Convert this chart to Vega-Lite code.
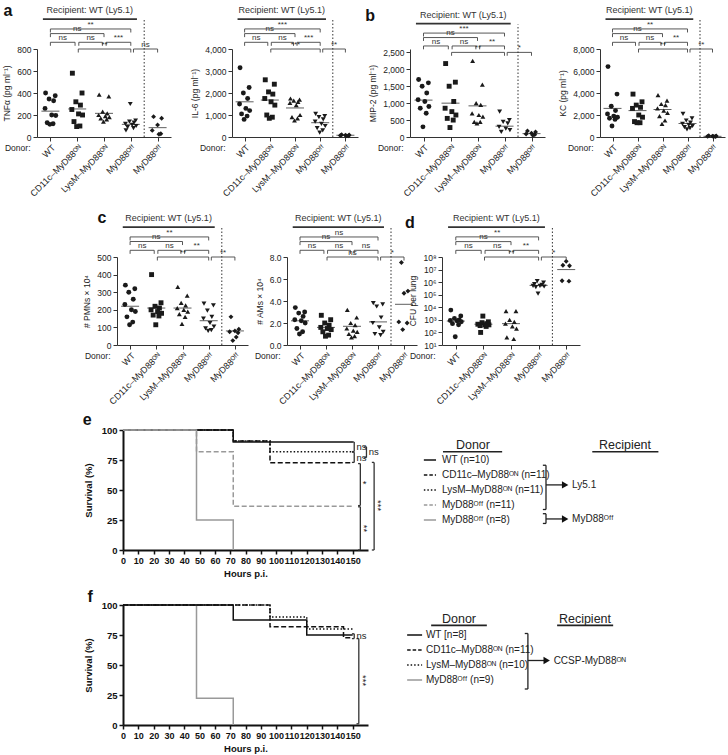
{
"$schema": "https://vega.github.io/schema/vega-lite/v6.json",
"width": 728, "height": 755,
"autosize": {"type": "none"},
"padding": 0,
"background": "white",
"config": {
  "view": {"stroke": null},
  "font": "Liberation Sans",
  "axis": {"grid": false, "labelOverlap": false, "domainColor": "#333", "tickColor": "#333", "labelColor": "#222", "titleColor": "#222", "labelFontSize": 8.5, "titleFontSize": 8.5, "titleFontWeight": "normal", "tickSize": 4, "labelPadding": 2, "titlePadding": 5},
  "axisX": {"labelFontSize": 9}
},
"datasets": {
  "pts": [
    {"p":"tnf","g":1,"x":0.82,"v":400},{"p":"tnf","g":1,"x":1.18,"v":375},{"p":"tnf","g":1,"x":0.95,"v":345},{"p":"tnf","g":1,"x":1.12,"v":330},{"p":"tnf","g":1,"x":0.8,"v":260},{"p":"tnf","g":1,"x":1.05,"v":200},{"p":"tnf","g":1,"x":1.2,"v":195},{"p":"tnf","g":1,"x":0.88,"v":130},{"p":"tnf","g":1,"x":1.1,"v":120},{"p":"tnf","g":1,"x":0.98,"v":115},
    {"p":"tnf","g":2,"x":1.82,"v":580},{"p":"tnf","g":2,"x":2.18,"v":400},{"p":"tnf","g":2,"x":1.95,"v":320},{"p":"tnf","g":2,"x":2.12,"v":290},{"p":"tnf","g":2,"x":1.8,"v":250},{"p":"tnf","g":2,"x":2.05,"v":210},{"p":"tnf","g":2,"x":2.2,"v":200},{"p":"tnf","g":2,"x":1.88,"v":140},{"p":"tnf","g":2,"x":2.1,"v":100},{"p":"tnf","g":2,"x":1.98,"v":95},
    {"p":"tnf","g":3,"x":2.82,"v":385},{"p":"tnf","g":3,"x":3.18,"v":370},{"p":"tnf","g":3,"x":2.95,"v":230},{"p":"tnf","g":3,"x":3.12,"v":215},{"p":"tnf","g":3,"x":2.8,"v":200},{"p":"tnf","g":3,"x":3.05,"v":190},{"p":"tnf","g":3,"x":3.2,"v":180},{"p":"tnf","g":3,"x":2.88,"v":170},{"p":"tnf","g":3,"x":3.1,"v":160},{"p":"tnf","g":3,"x":2.98,"v":140},
    {"p":"tnf","g":4,"x":3.98,"v":300},{"p":"tnf","g":4,"x":4.18,"v":150},{"p":"tnf","g":4,"x":3.95,"v":140},{"p":"tnf","g":4,"x":4.12,"v":130},{"p":"tnf","g":4,"x":3.8,"v":120},{"p":"tnf","g":4,"x":4.05,"v":110},{"p":"tnf","g":4,"x":4.2,"v":100},{"p":"tnf","g":4,"x":3.88,"v":90},{"p":"tnf","g":4,"x":4.1,"v":80},{"p":"tnf","g":4,"x":3.82,"v":60},
    {"p":"tnf","g":5,"x":4.85,"v":185},{"p":"tnf","g":5,"x":5.15,"v":170},{"p":"tnf","g":5,"x":5.0,"v":110},{"p":"tnf","g":5,"x":4.8,"v":60},{"p":"tnf","g":5,"x":5.12,"v":30},{"p":"tnf","g":5,"x":5.05,"v":25},

    {"p":"il6","g":1,"x":0.82,"v":3150},{"p":"il6","g":1,"x":1.18,"v":2250},{"p":"il6","g":1,"x":0.95,"v":2000},{"p":"il6","g":1,"x":1.12,"v":1750},{"p":"il6","g":1,"x":0.8,"v":1500},{"p":"il6","g":1,"x":1.05,"v":1300},{"p":"il6","g":1,"x":1.2,"v":1200},{"p":"il6","g":1,"x":0.88,"v":1050},{"p":"il6","g":1,"x":1.1,"v":950},{"p":"il6","g":1,"x":0.98,"v":800},
    {"p":"il6","g":2,"x":1.82,"v":2600},{"p":"il6","g":2,"x":2.18,"v":2400},{"p":"il6","g":2,"x":1.95,"v":2050},{"p":"il6","g":2,"x":2.12,"v":1950},{"p":"il6","g":2,"x":1.8,"v":1750},{"p":"il6","g":2,"x":2.05,"v":1600},{"p":"il6","g":2,"x":2.2,"v":1450},{"p":"il6","g":2,"x":1.88,"v":1000},{"p":"il6","g":2,"x":2.1,"v":900},{"p":"il6","g":2,"x":1.98,"v":850},
    {"p":"il6","g":3,"x":2.82,"v":1750},{"p":"il6","g":3,"x":3.18,"v":1700},{"p":"il6","g":3,"x":2.95,"v":1650},{"p":"il6","g":3,"x":3.12,"v":1600},{"p":"il6","g":3,"x":2.8,"v":1550},{"p":"il6","g":3,"x":3.05,"v":1450},{"p":"il6","g":3,"x":3.2,"v":1000},{"p":"il6","g":3,"x":2.88,"v":900},{"p":"il6","g":3,"x":3.1,"v":850},{"p":"il6","g":3,"x":2.98,"v":750},
    {"p":"il6","g":4,"x":3.82,"v":1050},{"p":"il6","g":4,"x":4.18,"v":950},{"p":"il6","g":4,"x":3.95,"v":900},{"p":"il6","g":4,"x":4.12,"v":800},{"p":"il6","g":4,"x":3.8,"v":700},{"p":"il6","g":4,"x":4.05,"v":600},{"p":"il6","g":4,"x":4.2,"v":500},{"p":"il6","g":4,"x":3.88,"v":400},{"p":"il6","g":4,"x":4.1,"v":300},{"p":"il6","g":4,"x":3.98,"v":200},
    {"p":"il6","g":5,"x":4.85,"v":100},{"p":"il6","g":5,"x":5.15,"v":90},{"p":"il6","g":5,"x":5.0,"v":80},{"p":"il6","g":5,"x":4.8,"v":70},{"p":"il6","g":5,"x":5.12,"v":60},{"p":"il6","g":5,"x":5.05,"v":50},

    {"p":"mip","g":1,"x":0.82,"v":1700},{"p":"mip","g":1,"x":1.18,"v":1600},{"p":"mip","g":1,"x":0.95,"v":1500},{"p":"mip","g":1,"x":1.12,"v":1300},{"p":"mip","g":1,"x":0.8,"v":1100},{"p":"mip","g":1,"x":1.05,"v":1050},{"p":"mip","g":1,"x":1.2,"v":900},{"p":"mip","g":1,"x":0.88,"v":850},{"p":"mip","g":1,"x":1.1,"v":700},{"p":"mip","g":1,"x":0.98,"v":300},
    {"p":"mip","g":2,"x":1.82,"v":2170},{"p":"mip","g":2,"x":2.18,"v":1620},{"p":"mip","g":2,"x":1.95,"v":1500},{"p":"mip","g":2,"x":2.12,"v":1050},{"p":"mip","g":2,"x":1.8,"v":850},{"p":"mip","g":2,"x":2.05,"v":750},{"p":"mip","g":2,"x":2.2,"v":650},{"p":"mip","g":2,"x":1.88,"v":550},{"p":"mip","g":2,"x":2.1,"v":500},{"p":"mip","g":2,"x":1.98,"v":280},
    {"p":"mip","g":3,"x":2.82,"v":2250},{"p":"mip","g":3,"x":3.18,"v":1550},{"p":"mip","g":3,"x":2.95,"v":1000},{"p":"mip","g":3,"x":3.12,"v":950},{"p":"mip","g":3,"x":2.8,"v":700},{"p":"mip","g":3,"x":3.05,"v":650},{"p":"mip","g":3,"x":3.2,"v":600},{"p":"mip","g":3,"x":2.88,"v":450},{"p":"mip","g":3,"x":3.1,"v":450},{"p":"mip","g":3,"x":2.98,"v":400},
    {"p":"mip","g":4,"x":3.82,"v":750},{"p":"mip","g":4,"x":4.18,"v":500},{"p":"mip","g":4,"x":3.95,"v":450},{"p":"mip","g":4,"x":4.12,"v":400},{"p":"mip","g":4,"x":3.8,"v":300},{"p":"mip","g":4,"x":4.05,"v":250},{"p":"mip","g":4,"x":4.2,"v":200},{"p":"mip","g":4,"x":3.88,"v":150},
    {"p":"mip","g":5,"x":4.85,"v":180},{"p":"mip","g":5,"x":5.15,"v":150},{"p":"mip","g":5,"x":5.0,"v":110},{"p":"mip","g":5,"x":4.8,"v":90},{"p":"mip","g":5,"x":5.12,"v":70},{"p":"mip","g":5,"x":5.05,"v":50},

    {"p":"kc","g":1,"x":0.82,"v":6400},{"p":"kc","g":1,"x":1.18,"v":3900},{"p":"kc","g":1,"x":0.95,"v":2800},{"p":"kc","g":1,"x":1.12,"v":2400},{"p":"kc","g":1,"x":0.8,"v":2100},{"p":"kc","g":1,"x":1.05,"v":1900},{"p":"kc","g":1,"x":1.2,"v":1800},{"p":"kc","g":1,"x":0.88,"v":1700},{"p":"kc","g":1,"x":1.1,"v":1600},{"p":"kc","g":1,"x":0.98,"v":1000},
    {"p":"kc","g":2,"x":1.82,"v":3900},{"p":"kc","g":2,"x":2.18,"v":3200},{"p":"kc","g":2,"x":1.95,"v":2900},{"p":"kc","g":2,"x":2.12,"v":2700},{"p":"kc","g":2,"x":1.8,"v":2600},{"p":"kc","g":2,"x":2.05,"v":2000},{"p":"kc","g":2,"x":2.2,"v":1800},{"p":"kc","g":2,"x":1.88,"v":1400},{"p":"kc","g":2,"x":2.1,"v":1300},{"p":"kc","g":2,"x":1.98,"v":1300},
    {"p":"kc","g":3,"x":2.82,"v":3800},{"p":"kc","g":3,"x":3.18,"v":3300},{"p":"kc","g":3,"x":2.95,"v":3000},{"p":"kc","g":3,"x":3.12,"v":2900},{"p":"kc","g":3,"x":2.8,"v":2600},{"p":"kc","g":3,"x":3.05,"v":2400},{"p":"kc","g":3,"x":3.2,"v":2200},{"p":"kc","g":3,"x":2.88,"v":1900},{"p":"kc","g":3,"x":3.1,"v":1500},{"p":"kc","g":3,"x":2.98,"v":1200},
    {"p":"kc","g":4,"x":3.82,"v":2100},{"p":"kc","g":4,"x":4.18,"v":1700},{"p":"kc","g":4,"x":3.95,"v":1500},{"p":"kc","g":4,"x":4.12,"v":1300},{"p":"kc","g":4,"x":3.8,"v":1200},{"p":"kc","g":4,"x":4.05,"v":1100},{"p":"kc","g":4,"x":4.2,"v":1000},{"p":"kc","g":4,"x":3.88,"v":900},{"p":"kc","g":4,"x":4.1,"v":800},{"p":"kc","g":4,"x":3.98,"v":700},
    {"p":"kc","g":5,"x":4.85,"v":120},{"p":"kc","g":5,"x":5.15,"v":100},{"p":"kc","g":5,"x":5.0,"v":80},{"p":"kc","g":5,"x":4.8,"v":60},{"p":"kc","g":5,"x":5.12,"v":50},{"p":"kc","g":5,"x":5.05,"v":40},

    {"p":"pmn","g":1,"x":0.82,"v":340},{"p":"pmn","g":1,"x":1.18,"v":320},{"p":"pmn","g":1,"x":0.95,"v":300},{"p":"pmn","g":1,"x":1.12,"v":260},{"p":"pmn","g":1,"x":0.8,"v":230},{"p":"pmn","g":1,"x":1.05,"v":200},{"p":"pmn","g":1,"x":1.2,"v":190},{"p":"pmn","g":1,"x":0.88,"v":160},{"p":"pmn","g":1,"x":1.1,"v":130},{"p":"pmn","g":1,"x":0.98,"v":115},
    {"p":"pmn","g":2,"x":1.82,"v":400},{"p":"pmn","g":2,"x":2.18,"v":240},{"p":"pmn","g":2,"x":1.95,"v":220},{"p":"pmn","g":2,"x":2.12,"v":210},{"p":"pmn","g":2,"x":1.8,"v":200},{"p":"pmn","g":2,"x":2.05,"v":190},{"p":"pmn","g":2,"x":2.2,"v":180},{"p":"pmn","g":2,"x":1.88,"v":170},{"p":"pmn","g":2,"x":2.1,"v":165},{"p":"pmn","g":2,"x":1.98,"v":115},
    {"p":"pmn","g":3,"x":2.82,"v":330},{"p":"pmn","g":3,"x":3.18,"v":280},{"p":"pmn","g":3,"x":2.95,"v":240},{"p":"pmn","g":3,"x":3.12,"v":225},{"p":"pmn","g":3,"x":2.8,"v":210},{"p":"pmn","g":3,"x":3.05,"v":200},{"p":"pmn","g":3,"x":3.2,"v":190},{"p":"pmn","g":3,"x":2.88,"v":175},{"p":"pmn","g":3,"x":3.1,"v":160},{"p":"pmn","g":3,"x":2.98,"v":120},
    {"p":"pmn","g":4,"x":3.82,"v":235},{"p":"pmn","g":4,"x":4.18,"v":225},{"p":"pmn","g":4,"x":3.95,"v":195},{"p":"pmn","g":4,"x":4.12,"v":160},{"p":"pmn","g":4,"x":3.8,"v":150},{"p":"pmn","g":4,"x":4.05,"v":125},{"p":"pmn","g":4,"x":4.2,"v":105},{"p":"pmn","g":4,"x":3.88,"v":95},{"p":"pmn","g":4,"x":4.1,"v":85},{"p":"pmn","g":4,"x":3.98,"v":80},
    {"p":"pmn","g":5,"x":4.85,"v":160},{"p":"pmn","g":5,"x":5.15,"v":90},{"p":"pmn","g":5,"x":5.0,"v":80},{"p":"pmn","g":5,"x":4.8,"v":75},{"p":"pmn","g":5,"x":5.12,"v":70},{"p":"pmn","g":5,"x":5.05,"v":45},{"p":"pmn","g":5,"x":4.92,"v":25},

    {"p":"am","g":1,"x":0.82,"v":3.4},{"p":"am","g":1,"x":1.18,"v":3.0},{"p":"am","g":1,"x":0.95,"v":2.9},{"p":"am","g":1,"x":1.12,"v":2.6},{"p":"am","g":1,"x":0.8,"v":2.3},{"p":"am","g":1,"x":1.05,"v":2.2},{"p":"am","g":1,"x":1.2,"v":2.0},{"p":"am","g":1,"x":0.88,"v":1.5},{"p":"am","g":1,"x":1.1,"v":1.2},{"p":"am","g":1,"x":0.98,"v":1.0},
    {"p":"am","g":2,"x":1.82,"v":2.7},{"p":"am","g":2,"x":2.18,"v":2.3},{"p":"am","g":2,"x":1.95,"v":2.0},{"p":"am","g":2,"x":2.12,"v":1.8},{"p":"am","g":2,"x":1.8,"v":1.6},{"p":"am","g":2,"x":2.05,"v":1.5},{"p":"am","g":2,"x":2.2,"v":1.4},{"p":"am","g":2,"x":1.88,"v":1.2},{"p":"am","g":2,"x":2.1,"v":0.9},{"p":"am","g":2,"x":1.98,"v":0.8},
    {"p":"am","g":3,"x":2.82,"v":3.2},{"p":"am","g":3,"x":3.18,"v":2.5},{"p":"am","g":3,"x":2.95,"v":2.0},{"p":"am","g":3,"x":3.12,"v":1.8},{"p":"am","g":3,"x":2.8,"v":1.5},{"p":"am","g":3,"x":3.05,"v":1.3},{"p":"am","g":3,"x":3.2,"v":1.2},{"p":"am","g":3,"x":2.88,"v":1.0},{"p":"am","g":3,"x":3.1,"v":0.8},{"p":"am","g":3,"x":2.98,"v":0.7},
    {"p":"am","g":4,"x":3.82,"v":3.8},{"p":"am","g":4,"x":4.18,"v":3.7},{"p":"am","g":4,"x":3.95,"v":3.5},{"p":"am","g":4,"x":4.12,"v":2.5},{"p":"am","g":4,"x":3.8,"v":2.0},{"p":"am","g":4,"x":4.05,"v":1.6},{"p":"am","g":4,"x":4.2,"v":1.2},{"p":"am","g":4,"x":3.88,"v":1.0},{"p":"am","g":4,"x":4.1,"v":0.9},
    {"p":"am","g":5,"x":4.9,"v":7.5},{"p":"am","g":5,"x":5.15,"v":4.9},{"p":"am","g":5,"x":5.0,"v":4.7},{"p":"am","g":5,"x":4.8,"v":2.1},{"p":"am","g":5,"x":5.12,"v":2.0},{"p":"am","g":5,"x":4.95,"v":1.4},

    {"p":"cfu","g":1,"x":0.82,"v":6000},{"p":"cfu","g":1,"x":1.18,"v":2000},{"p":"cfu","g":1,"x":0.95,"v":1300},{"p":"cfu","g":1,"x":1.12,"v":1000},{"p":"cfu","g":1,"x":0.8,"v":900},{"p":"cfu","g":1,"x":1.05,"v":800},{"p":"cfu","g":1,"x":1.2,"v":700},{"p":"cfu","g":1,"x":0.88,"v":500},{"p":"cfu","g":1,"x":1.1,"v":400},{"p":"cfu","g":1,"x":0.98,"v":45},
    {"p":"cfu","g":2,"x":1.98,"v":2000},{"p":"cfu","g":2,"x":2.18,"v":700},{"p":"cfu","g":2,"x":1.95,"v":600},{"p":"cfu","g":2,"x":2.12,"v":500},{"p":"cfu","g":2,"x":1.8,"v":450},{"p":"cfu","g":2,"x":2.05,"v":400},{"p":"cfu","g":2,"x":2.2,"v":400},{"p":"cfu","g":2,"x":1.88,"v":350},{"p":"cfu","g":2,"x":2.1,"v":300},{"p":"cfu","g":2,"x":1.9,"v":100},
    {"p":"cfu","g":3,"x":2.82,"v":5000},{"p":"cfu","g":3,"x":3.18,"v":5000},{"p":"cfu","g":3,"x":2.95,"v":1000},{"p":"cfu","g":3,"x":3.12,"v":700},{"p":"cfu","g":3,"x":2.8,"v":500},{"p":"cfu","g":3,"x":3.05,"v":300},{"p":"cfu","g":3,"x":3.2,"v":200},{"p":"cfu","g":3,"x":2.85,"v":40},{"p":"cfu","g":3,"x":3.1,"v":30},
    {"p":"cfu","g":4,"x":3.95,"v":1200000},{"p":"cfu","g":4,"x":4.18,"v":900000},{"p":"cfu","g":4,"x":3.85,"v":700000},{"p":"cfu","g":4,"x":4.12,"v":600000},{"p":"cfu","g":4,"x":3.8,"v":500000},{"p":"cfu","g":4,"x":4.05,"v":500000},{"p":"cfu","g":4,"x":4.2,"v":450000},{"p":"cfu","g":4,"x":3.9,"v":400000},{"p":"cfu","g":4,"x":3.98,"v":120000},
    {"p":"cfu","g":5,"x":5.0,"v":45000000},{"p":"cfu","g":5,"x":4.88,"v":22000000},{"p":"cfu","g":5,"x":5.12,"v":20000000},{"p":"cfu","g":5,"x":4.85,"v":1300000},{"p":"cfu","g":5,"x":5.1,"v":1200000}
  ],
  "means": [
    {"p":"tnf","g":1,"v":235},{"p":"tnf","g":2,"v":255},{"p":"tnf","g":3,"v":215},{"p":"tnf","g":4,"v":115},{"p":"tnf","g":5,"v":85},
    {"p":"il6","g":1,"v":1600},{"p":"il6","g":2,"v":1680},{"p":"il6","g":3,"v":1320},{"p":"il6","g":4,"v":650},{"p":"il6","g":5,"v":80},
    {"p":"mip","g":1,"v":1090},{"p":"mip","g":2,"v":1000},{"p":"mip","g":3,"v":920},{"p":"mip","g":4,"v":320},{"p":"mip","g":5,"v":100},
    {"p":"kc","g":1,"v":2600},{"p":"kc","g":2,"v":2400},{"p":"kc","g":3,"v":2500},{"p":"kc","g":4,"v":1230},{"p":"kc","g":5,"v":60},
    {"p":"pmn","g":1,"v":220},{"p":"pmn","g":2,"v":210},{"p":"pmn","g":3,"v":210},{"p":"pmn","g":4,"v":138},{"p":"pmn","g":5,"v":80},
    {"p":"am","g":1,"v":2.2},{"p":"am","g":2,"v":1.6},{"p":"am","g":3,"v":1.7},{"p":"am","g":4,"v":2.1},{"p":"am","g":5,"v":3.7},
    {"p":"cfu","g":1,"v":800},{"p":"cfu","g":2,"v":450},{"p":"cfu","g":3,"v":500},{"p":"cfu","g":4,"v":550000},{"p":"cfu","g":5,"v":10000000}
  ],
  "br": [
    {"p":"tnf","x1":1,"x2":4,"xm":2.5,"y":982,"yt":950,"lab":"**"},{"p":"tnf","x1":1,"x2":3,"xm":2,"y":940,"yt":908,"lab":"ns"},{"p":"tnf","x1":1,"x2":1.92,"xm":1.46,"y":861,"yt":829,"lab":"ns"},{"p":"tnf","x1":2.06,"x2":2.94,"xm":2.5,"y":861,"yt":829,"lab":"ns"},{"p":"tnf","x1":3.08,"x2":4,"xm":3.54,"y":861,"yt":829,"lab":"***"},{"p":"tnf","x1":2.04,"x2":4,"xm":3.02,"y":800,"yt":768,"lab":"**"},{"p":"tnf","x1":4.1,"x2":5,"xm":4.55,"y":800,"yt":768,"lab":"ns"},
    {"p":"il6","x1":1,"x2":4,"xm":2.5,"y":4912,"yt":4752,"lab":"***"},{"p":"il6","x1":1,"x2":3,"xm":2,"y":4700,"yt":4540,"lab":"ns"},{"p":"il6","x1":1,"x2":1.92,"xm":1.46,"y":4304,"yt":4144,"lab":"ns"},{"p":"il6","x1":2.06,"x2":2.94,"xm":2.5,"y":4304,"yt":4144,"lab":"ns"},{"p":"il6","x1":3.08,"x2":4,"xm":3.54,"y":4304,"yt":4144,"lab":"***"},{"p":"il6","x1":2.04,"x2":4,"xm":3.02,"y":4000,"yt":3840,"lab":"***"},{"p":"il6","x1":4.1,"x2":5,"xm":4.55,"y":4000,"yt":3840,"lab":"**"},
    {"p":"mip","x1":1,"x2":4,"xm":2.5,"y":3070,"yt":2970,"lab":"***"},{"p":"mip","x1":1,"x2":3,"xm":2,"y":2938,"yt":2838,"lab":"ns"},{"p":"mip","x1":1,"x2":1.92,"xm":1.46,"y":2690,"yt":2590,"lab":"ns"},{"p":"mip","x1":2.06,"x2":2.94,"xm":2.5,"y":2690,"yt":2590,"lab":"ns"},{"p":"mip","x1":3.08,"x2":4,"xm":3.54,"y":2690,"yt":2590,"lab":"**"},{"p":"mip","x1":2.04,"x2":4,"xm":3.02,"y":2500,"yt":2400,"lab":"**"},{"p":"mip","x1":4.1,"x2":5,"xm":4.55,"y":2500,"yt":2400,"lab":"*"},
    {"p":"kc","x1":1,"x2":4,"xm":2.5,"y":9824,"yt":9504,"lab":"**"},{"p":"kc","x1":1,"x2":3,"xm":2,"y":9400,"yt":9080,"lab":"ns"},{"p":"kc","x1":1,"x2":1.92,"xm":1.46,"y":8608,"yt":8288,"lab":"ns"},{"p":"kc","x1":2.06,"x2":2.94,"xm":2.5,"y":8608,"yt":8288,"lab":"ns"},{"p":"kc","x1":3.08,"x2":4,"xm":3.54,"y":8608,"yt":8288,"lab":"**"},{"p":"kc","x1":2.04,"x2":4,"xm":3.02,"y":8000,"yt":7680,"lab":"**"},{"p":"kc","x1":4.1,"x2":5,"xm":4.55,"y":8000,"yt":7680,"lab":"**"},
    {"p":"pmn","x1":1,"x2":4,"xm":2.5,"y":614,"yt":594,"lab":"**"},{"p":"pmn","x1":1,"x2":3,"xm":2,"y":588,"yt":568,"lab":"ns"},{"p":"pmn","x1":1,"x2":1.92,"xm":1.46,"y":538,"yt":518,"lab":"ns"},{"p":"pmn","x1":2.06,"x2":2.94,"xm":2.5,"y":538,"yt":518,"lab":"ns"},{"p":"pmn","x1":3.08,"x2":4,"xm":3.54,"y":538,"yt":518,"lab":"**"},{"p":"pmn","x1":2.04,"x2":4,"xm":3.02,"y":500,"yt":480,"lab":"**"},{"p":"pmn","x1":4.1,"x2":5,"xm":4.55,"y":500,"yt":480,"lab":"**"},
    {"p":"am","x1":1,"x2":4,"xm":2.5,"y":9.82,"yt":9.5,"lab":"ns"},{"p":"am","x1":1,"x2":3,"xm":2,"y":9.4,"yt":9.08,"lab":"ns"},{"p":"am","x1":1,"x2":1.92,"xm":1.46,"y":8.61,"yt":8.29,"lab":"ns"},{"p":"am","x1":2.06,"x2":2.94,"xm":2.5,"y":8.61,"yt":8.29,"lab":"ns"},{"p":"am","x1":3.08,"x2":4,"xm":3.54,"y":8.61,"yt":8.29,"lab":"ns"},{"p":"am","x1":2.04,"x2":4,"xm":3.02,"y":8,"yt":7.68,"lab":"ns"},{"p":"am","x1":4.1,"x2":5,"xm":4.55,"y":8,"yt":7.68,"lab":"*"},
    {"p":"cfu","x1":1,"x2":4,"xm":2.5,"y":3980000000,"yt":2090000000,"lab":"**"},{"p":"cfu","x1":1,"x2":3,"xm":2,"y":1680000000,"yt":880000000,"lab":"ns"},{"p":"cfu","x1":1,"x2":1.92,"xm":1.46,"y":339000000,"yt":178000000,"lab":"ns"},{"p":"cfu","x1":2.06,"x2":2.94,"xm":2.5,"y":339000000,"yt":178000000,"lab":"ns"},{"p":"cfu","x1":3.08,"x2":4,"xm":3.54,"y":339000000,"yt":178000000,"lab":"**"},{"p":"cfu","x1":2.04,"x2":4,"xm":3.02,"y":100000000,"yt":52500000,"lab":"**"},{"p":"cfu","x1":4.1,"x2":5,"xm":4.55,"y":100000000,"yt":52500000,"lab":"*"}
  ],
  "hdr": [
    {"p":"tnf","xc":2.47,"yt":1152,"xl":0.72,"xr":4.23,"yl":1072,"xd":4.5,"yd0":0,"yd1":1064,"lab":"Recipient: WT (Ly5.1)"},
    {"p":"il6","xc":2.47,"yt":5760,"xl":0.72,"xr":4.23,"yl":5360,"xd":4.5,"yd0":0,"yd1":5320,"lab":"Recipient: WT (Ly5.1)"},
    {"p":"mip","xc":2.47,"yt":3600,"xl":0.72,"xr":4.23,"yl":3350,"xd":4.5,"yd0":0,"yd1":3325,"lab":"Recipient: WT (Ly5.1)"},
    {"p":"kc","xc":2.47,"yt":11520,"xl":0.72,"xr":4.23,"yl":10720,"xd":4.5,"yd0":0,"yd1":10640,"lab":"Recipient: WT (Ly5.1)"},
    {"p":"pmn","xc":2.47,"yt":720,"xl":0.72,"xr":4.23,"yl":670,"xd":4.5,"yd0":0,"yd1":665,"lab":"Recipient: WT (Ly5.1)"},
    {"p":"am","xc":2.47,"yt":11.52,"xl":0.72,"xr":4.23,"yl":10.72,"xd":4.5,"yd0":0,"yd1":10.64,"lab":"Recipient: WT (Ly5.1)"},
    {"p":"cfu","xc":2.47,"yt":120000000000,"xl":0.72,"xr":4.23,"yl":24000000000,"xd":4.5,"yd0":10,"yd1":20400000000,"lab":"Recipient: WT (Ly5.1)"}
  ],
  "let": [
    {"p":"tnf","x":-0.58,"y":1145,"t":"a"},
    {"p":"mip","x":-0.98,"y":3580,"t":"b"},
    {"p":"pmn","x":-0.07,"y":722,"t":"c"},
    {"p":"cfu","x":-0.66,"y":50000000000,"t":"d"}
  ],
  "surv": [
    {"pl":"e","s":"WT","t":0,"y":100},{"pl":"e","s":"WT","t":72,"y":90},{"pl":"e","s":"WT","t":150,"y":90},
    {"pl":"e","s":"CD","t":0,"y":100},{"pl":"e","s":"CD","t":72,"y":90.9},{"pl":"e","s":"CD","t":96,"y":72.7},{"pl":"e","s":"CD","t":150,"y":72.7},
    {"pl":"e","s":"Ly","t":0,"y":100},{"pl":"e","s":"Ly","t":72,"y":90.9},{"pl":"e","s":"Ly","t":96,"y":81.8},{"pl":"e","s":"Ly","t":150,"y":81.8},
    {"pl":"e","s":"O11","t":0,"y":100},{"pl":"e","s":"O11","t":48,"y":81.8},{"pl":"e","s":"O11","t":72,"y":36.4},{"pl":"e","s":"O11","t":150,"y":36.4},
    {"pl":"e","s":"O8","t":0,"y":100},{"pl":"e","s":"O8","t":48,"y":25},{"pl":"e","s":"O8","t":72,"y":0},
    {"pl":"f","s":"WT","t":0,"y":100},{"pl":"f","s":"WT","t":72,"y":87.5},{"pl":"f","s":"WT","t":120,"y":75},{"pl":"f","s":"WT","t":150,"y":75},
    {"pl":"f","s":"CD","t":0,"y":100},{"pl":"f","s":"CD","t":96,"y":81.8},{"pl":"f","s":"CD","t":144,"y":72.7},{"pl":"f","s":"CD","t":150,"y":72.7},
    {"pl":"f","s":"Ly","t":0,"y":100},{"pl":"f","s":"Ly","t":96,"y":90},{"pl":"f","s":"Ly","t":120,"y":80},{"pl":"f","s":"Ly","t":150,"y":80},
    {"pl":"f","s":"O9","t":0,"y":100},{"pl":"f","s":"O9","t":48,"y":22.2},{"pl":"f","s":"O9","t":72,"y":0}
  ],
  "sig": [
    {"pl":"e","t":151,"t0":149.5,"y1":90,"y2":82},{"pl":"e","t":151,"t0":149.5,"y1":81.5,"y2":73},{"pl":"e","t":159,"t0":157.5,"y1":86,"y2":77},
    {"pl":"e","t":155,"t0":153.5,"y1":72,"y2":37},{"pl":"e","t":155,"t0":153.5,"y1":36,"y2":0},{"pl":"e","t":164,"t0":162.5,"y1":73,"y2":0},
    {"pl":"f","t":151,"t0":149.5,"y1":76,"y2":72},{"pl":"f","t":154,"t0":152.5,"y1":72,"y2":1}
  ],
  "sigt": [
    {"pl":"e","t":152.5,"y":86,"lab":"ns"},{"pl":"e","t":152.5,"y":77,"lab":"ns"},{"pl":"e","t":160.5,"y":81.5,"lab":"ns"},
    {"pl":"e","t":156.5,"y":55,"lab":"*"},{"pl":"e","t":157.5,"y":18,"lab":"**"},{"pl":"e","t":166.5,"y":37,"lab":"***"},
    {"pl":"f","t":152.5,"y":74,"lab":"ns"},{"pl":"f","t":157,"y":37,"lab":"***"}
  ],
  "leg": [
    {"lg":"e","r":1,"s":"WT","lab":"WT (n=10)"},{"lg":"e","r":2,"s":"CD","lab":"CD11c–MyD88ᴼᴺ (n=11)"},{"lg":"e","r":3,"s":"Ly","lab":"LysM–MyD88ᴼᴺ (n=11)"},{"lg":"e","r":4,"s":"O11","lab":"MyD88ᴼᶠᶠ (n=11)"},{"lg":"e","r":5,"s":"O8","lab":"MyD88ᴼᶠᶠ (n=8)"},
    {"lg":"f","r":1,"s":"WT","lab":"WT [n=8]"},{"lg":"f","r":2,"s":"CD","lab":"CD11c–MyD88ᴼᴺ (n=11)"},{"lg":"f","r":3,"s":"Ly","lab":"LysM–MyD88ᴼᴺ (n=10)"},{"lg":"f","r":4,"s":"O9","lab":"MyD88ᴼᶠᶠ (n=9)"}
  ]
},
"resolve": {"scale": {"x": "independent", "y": "independent", "shape": "independent", "color": "independent", "strokeDash": "independent"}, "axis": {"x": "independent", "y": "independent"}},
"layer": [
  {"layer":[
    {"data":{"name":"pts"},"transform":[{"filter":"datum.p=='tnf'"}],"mark":{"type":"point","filled":true,"size":24,"color":"#1a1a1a","opacity":1},
     "encoding":{"x":{"field":"x","type":"quantitative","scale":{"domain":[0.5,5.5],"range":[37,171]},"axis":{"orient":"bottom","offset":-618,"values":[1,2,3,4,5],"labelExpr":"['','WT','CD11c–MyD88ᴼᴺ','LysM–MyD88ᴼᴺ','MyD88ᴼᶠᶠ','MyD88ᴼᶠᶠ'][datum.value]","labelAngle":-45,"labelOverlap":false,"title":"Donor:","titleX":30,"titleY":10,"titleAlign":"right","titleBaseline":"middle"}},
       "y":{"field":"v","type":"quantitative","scale":{"domain":[0,800],"range":[137,49]},"axis":{"orient":"left","offset":-37,"title":"TNFα (pg ml⁻¹)","values":[0,200,400,600,800],"labelOverlap":false}},
       "shape":{"field":"g","type":"nominal","scale":{"domain":[1,2,3,4,5],"range":["circle","square","triangle-up","triangle-down","diamond"]},"legend":null}}},
    {"data":{"name":"means"},"transform":[{"filter":"datum.p=='tnf'"}],"mark":{"type":"tick","orient":"horizontal","size":18,"thickness":1,"color":"#1a1a1a"},"encoding":{"x":{"field":"g","type":"quantitative"},"y":{"field":"v","type":"quantitative"}}},
    {"data":{"name":"br"},"transform":[{"filter":"datum.p=='tnf'"}],"mark":{"type":"rule","color":"#444","strokeWidth":0.9},"encoding":{"x":{"field":"x1","type":"quantitative"},"x2":{"field":"x2"},"y":{"field":"y","type":"quantitative"}}},
    {"data":{"name":"br"},"transform":[{"filter":"datum.p=='tnf'"}],"mark":{"type":"rule","color":"#444","strokeWidth":0.9},"encoding":{"x":{"field":"x1","type":"quantitative"},"y":{"field":"y","type":"quantitative"},"y2":{"field":"yt"}}},
    {"data":{"name":"br"},"transform":[{"filter":"datum.p=='tnf'"}],"mark":{"type":"rule","color":"#444","strokeWidth":0.9},"encoding":{"x":{"field":"x2","type":"quantitative"},"y":{"field":"y","type":"quantitative"},"y2":{"field":"yt"}}},
    {"data":{"name":"br"},"transform":[{"filter":"datum.p=='tnf'"}],"mark":{"type":"text","fontSize":8,"baseline":"bottom","dy":-0.3,"color":"#333"},"encoding":{"x":{"field":"xm","type":"quantitative"},"y":{"field":"y","type":"quantitative"},"text":{"field":"lab"}}},
    {"data":{"name":"hdr"},"transform":[{"filter":"datum.p=='tnf'"}],"mark":{"type":"text","fontSize":9,"color":"#333"},"encoding":{"x":{"field":"xc","type":"quantitative"},"y":{"field":"yt","type":"quantitative"},"text":{"field":"lab"}}},
    {"data":{"name":"hdr"},"transform":[{"filter":"datum.p=='tnf'"}],"mark":{"type":"rule","color":"#333","strokeWidth":1.6},"encoding":{"x":{"field":"xl","type":"quantitative"},"x2":{"field":"xr"},"y":{"field":"yl","type":"quantitative"}}},
    {"data":{"name":"hdr"},"transform":[{"filter":"datum.p=='tnf'"}],"mark":{"type":"rule","color":"#333","strokeWidth":1,"strokeDash":[1.5,2]},"encoding":{"x":{"field":"xd","type":"quantitative"},"y":{"field":"yd0","type":"quantitative"},"y2":{"field":"yd1"}}},
    {"data":{"name":"let"},"transform":[{"filter":"datum.p=='tnf'"}],"mark":{"type":"text","fontSize":16,"fontWeight":"bold","color":"#111"},"encoding":{"x":{"field":"x","type":"quantitative"},"y":{"field":"y","type":"quantitative"},"text":{"field":"t"}}}
  ]},
  {"layer":[
    {"data":{"name":"pts"},"transform":[{"filter":"datum.p=='il6'"}],"mark":{"type":"point","filled":true,"size":24,"color":"#1a1a1a","opacity":1},
     "encoding":{"x":{"field":"x","type":"quantitative","scale":{"domain":[0.5,5.5],"range":[232,358]},"axis":{"orient":"bottom","offset":-618,"values":[1,2,3,4,5],"labelExpr":"['','WT','CD11c–MyD88ᴼᴺ','LysM–MyD88ᴼᴺ','MyD88ᴼᶠᶠ','MyD88ᴼᶠᶠ'][datum.value]","labelAngle":-45,"labelOverlap":false,"title":"Donor:","titleX":225,"titleY":10,"titleAlign":"right","titleBaseline":"middle"}},
       "y":{"field":"v","type":"quantitative","scale":{"domain":[0,4000],"range":[137,49]},"axis":{"orient":"left","offset":-232,"title":"IL-6 (pg ml⁻¹)","values":[0,1000,2000,3000,4000],"labelOverlap":false}},
       "shape":{"field":"g","type":"nominal","scale":{"domain":[1,2,3,4,5],"range":["circle","square","triangle-up","triangle-down","diamond"]},"legend":null}}},
    {"data":{"name":"means"},"transform":[{"filter":"datum.p=='il6'"}],"mark":{"type":"tick","orient":"horizontal","size":18,"thickness":1,"color":"#1a1a1a"},"encoding":{"x":{"field":"g","type":"quantitative"},"y":{"field":"v","type":"quantitative"}}},
    {"data":{"name":"br"},"transform":[{"filter":"datum.p=='il6'"}],"mark":{"type":"rule","color":"#444","strokeWidth":0.9},"encoding":{"x":{"field":"x1","type":"quantitative"},"x2":{"field":"x2"},"y":{"field":"y","type":"quantitative"}}},
    {"data":{"name":"br"},"transform":[{"filter":"datum.p=='il6'"}],"mark":{"type":"rule","color":"#444","strokeWidth":0.9},"encoding":{"x":{"field":"x1","type":"quantitative"},"y":{"field":"y","type":"quantitative"},"y2":{"field":"yt"}}},
    {"data":{"name":"br"},"transform":[{"filter":"datum.p=='il6'"}],"mark":{"type":"rule","color":"#444","strokeWidth":0.9},"encoding":{"x":{"field":"x2","type":"quantitative"},"y":{"field":"y","type":"quantitative"},"y2":{"field":"yt"}}},
    {"data":{"name":"br"},"transform":[{"filter":"datum.p=='il6'"}],"mark":{"type":"text","fontSize":8,"baseline":"bottom","dy":-0.3,"color":"#333"},"encoding":{"x":{"field":"xm","type":"quantitative"},"y":{"field":"y","type":"quantitative"},"text":{"field":"lab"}}},
    {"data":{"name":"hdr"},"transform":[{"filter":"datum.p=='il6'"}],"mark":{"type":"text","fontSize":9,"color":"#333"},"encoding":{"x":{"field":"xc","type":"quantitative"},"y":{"field":"yt","type":"quantitative"},"text":{"field":"lab"}}},
    {"data":{"name":"hdr"},"transform":[{"filter":"datum.p=='il6'"}],"mark":{"type":"rule","color":"#333","strokeWidth":1.6},"encoding":{"x":{"field":"xl","type":"quantitative"},"x2":{"field":"xr"},"y":{"field":"yl","type":"quantitative"}}},
    {"data":{"name":"hdr"},"transform":[{"filter":"datum.p=='il6'"}],"mark":{"type":"rule","color":"#333","strokeWidth":1,"strokeDash":[1.5,2]},"encoding":{"x":{"field":"xd","type":"quantitative"},"y":{"field":"yd0","type":"quantitative"},"y2":{"field":"yd1"}}}
  ]},
  {"layer":[
    {"data":{"name":"pts"},"transform":[{"filter":"datum.p=='mip'"}],"mark":{"type":"point","filled":true,"size":24,"color":"#1a1a1a","opacity":1},
     "encoding":{"x":{"field":"x","type":"quantitative","scale":{"domain":[0.5,5.5],"range":[410,545]},"axis":{"orient":"bottom","offset":-618,"values":[1,2,3,4,5],"labelExpr":"['','WT','CD11c–MyD88ᴼᴺ','LysM–MyD88ᴼᴺ','MyD88ᴼᶠᶠ','MyD88ᴼᶠᶠ'][datum.value]","labelAngle":-45,"labelOverlap":false,"title":"Donor:","titleX":403,"titleY":10,"titleAlign":"right","titleBaseline":"middle"}},
       "y":{"field":"v","type":"quantitative","scale":{"domain":[0,2500],"range":[137,49]},"axis":{"orient":"left","offset":-410,"title":"MIP-2 (pg ml⁻¹)","values":[0,500,1000,1500,2000,2500],"labelOverlap":false}},
       "shape":{"field":"g","type":"nominal","scale":{"domain":[1,2,3,4,5],"range":["circle","square","triangle-up","triangle-down","diamond"]},"legend":null}}},
    {"data":{"name":"means"},"transform":[{"filter":"datum.p=='mip'"}],"mark":{"type":"tick","orient":"horizontal","size":18,"thickness":1,"color":"#1a1a1a"},"encoding":{"x":{"field":"g","type":"quantitative"},"y":{"field":"v","type":"quantitative"}}},
    {"data":{"name":"br"},"transform":[{"filter":"datum.p=='mip'"}],"mark":{"type":"rule","color":"#444","strokeWidth":0.9},"encoding":{"x":{"field":"x1","type":"quantitative"},"x2":{"field":"x2"},"y":{"field":"y","type":"quantitative"}}},
    {"data":{"name":"br"},"transform":[{"filter":"datum.p=='mip'"}],"mark":{"type":"rule","color":"#444","strokeWidth":0.9},"encoding":{"x":{"field":"x1","type":"quantitative"},"y":{"field":"y","type":"quantitative"},"y2":{"field":"yt"}}},
    {"data":{"name":"br"},"transform":[{"filter":"datum.p=='mip'"}],"mark":{"type":"rule","color":"#444","strokeWidth":0.9},"encoding":{"x":{"field":"x2","type":"quantitative"},"y":{"field":"y","type":"quantitative"},"y2":{"field":"yt"}}},
    {"data":{"name":"br"},"transform":[{"filter":"datum.p=='mip'"}],"mark":{"type":"text","fontSize":8,"baseline":"bottom","dy":-0.3,"color":"#333"},"encoding":{"x":{"field":"xm","type":"quantitative"},"y":{"field":"y","type":"quantitative"},"text":{"field":"lab"}}},
    {"data":{"name":"hdr"},"transform":[{"filter":"datum.p=='mip'"}],"mark":{"type":"text","fontSize":9,"color":"#333"},"encoding":{"x":{"field":"xc","type":"quantitative"},"y":{"field":"yt","type":"quantitative"},"text":{"field":"lab"}}},
    {"data":{"name":"hdr"},"transform":[{"filter":"datum.p=='mip'"}],"mark":{"type":"rule","color":"#333","strokeWidth":1.6},"encoding":{"x":{"field":"xl","type":"quantitative"},"x2":{"field":"xr"},"y":{"field":"yl","type":"quantitative"}}},
    {"data":{"name":"hdr"},"transform":[{"filter":"datum.p=='mip'"}],"mark":{"type":"rule","color":"#333","strokeWidth":1,"strokeDash":[1.5,2]},"encoding":{"x":{"field":"xd","type":"quantitative"},"y":{"field":"yd0","type":"quantitative"},"y2":{"field":"yd1"}}},
    {"data":{"name":"let"},"transform":[{"filter":"datum.p=='mip'"}],"mark":{"type":"text","fontSize":16,"fontWeight":"bold","color":"#111"},"encoding":{"x":{"field":"x","type":"quantitative"},"y":{"field":"y","type":"quantitative"},"text":{"field":"t"}}}
  ]},
  {"layer":[
    {"data":{"name":"pts"},"transform":[{"filter":"datum.p=='kc'"}],"mark":{"type":"point","filled":true,"size":24,"color":"#1a1a1a","opacity":1},
     "encoding":{"x":{"field":"x","type":"quantitative","scale":{"domain":[0.5,5.5],"range":[600,725]},"axis":{"orient":"bottom","offset":-618,"values":[1,2,3,4,5],"labelExpr":"['','WT','CD11c–MyD88ᴼᴺ','LysM–MyD88ᴼᴺ','MyD88ᴼᶠᶠ','MyD88ᴼᶠᶠ'][datum.value]","labelAngle":-45,"labelOverlap":false,"title":"Donor:","titleX":593,"titleY":10,"titleAlign":"right","titleBaseline":"middle"}},
       "y":{"field":"v","type":"quantitative","scale":{"domain":[0,8000],"range":[137,49]},"axis":{"orient":"left","offset":-600,"title":"KC (pg ml⁻¹)","values":[0,2000,4000,6000,8000],"labelOverlap":false}},
       "shape":{"field":"g","type":"nominal","scale":{"domain":[1,2,3,4,5],"range":["circle","square","triangle-up","triangle-down","diamond"]},"legend":null}}},
    {"data":{"name":"means"},"transform":[{"filter":"datum.p=='kc'"}],"mark":{"type":"tick","orient":"horizontal","size":18,"thickness":1,"color":"#1a1a1a"},"encoding":{"x":{"field":"g","type":"quantitative"},"y":{"field":"v","type":"quantitative"}}},
    {"data":{"name":"br"},"transform":[{"filter":"datum.p=='kc'"}],"mark":{"type":"rule","color":"#444","strokeWidth":0.9},"encoding":{"x":{"field":"x1","type":"quantitative"},"x2":{"field":"x2"},"y":{"field":"y","type":"quantitative"}}},
    {"data":{"name":"br"},"transform":[{"filter":"datum.p=='kc'"}],"mark":{"type":"rule","color":"#444","strokeWidth":0.9},"encoding":{"x":{"field":"x1","type":"quantitative"},"y":{"field":"y","type":"quantitative"},"y2":{"field":"yt"}}},
    {"data":{"name":"br"},"transform":[{"filter":"datum.p=='kc'"}],"mark":{"type":"rule","color":"#444","strokeWidth":0.9},"encoding":{"x":{"field":"x2","type":"quantitative"},"y":{"field":"y","type":"quantitative"},"y2":{"field":"yt"}}},
    {"data":{"name":"br"},"transform":[{"filter":"datum.p=='kc'"}],"mark":{"type":"text","fontSize":8,"baseline":"bottom","dy":-0.3,"color":"#333"},"encoding":{"x":{"field":"xm","type":"quantitative"},"y":{"field":"y","type":"quantitative"},"text":{"field":"lab"}}},
    {"data":{"name":"hdr"},"transform":[{"filter":"datum.p=='kc'"}],"mark":{"type":"text","fontSize":9,"color":"#333"},"encoding":{"x":{"field":"xc","type":"quantitative"},"y":{"field":"yt","type":"quantitative"},"text":{"field":"lab"}}},
    {"data":{"name":"hdr"},"transform":[{"filter":"datum.p=='kc'"}],"mark":{"type":"rule","color":"#333","strokeWidth":1.6},"encoding":{"x":{"field":"xl","type":"quantitative"},"x2":{"field":"xr"},"y":{"field":"yl","type":"quantitative"}}},
    {"data":{"name":"hdr"},"transform":[{"filter":"datum.p=='kc'"}],"mark":{"type":"rule","color":"#333","strokeWidth":1,"strokeDash":[1.5,2]},"encoding":{"x":{"field":"xd","type":"quantitative"},"y":{"field":"yd0","type":"quantitative"},"y2":{"field":"yd1"}}}
  ]},
  {"layer":[
    {"data":{"name":"pts"},"transform":[{"filter":"datum.p=='pmn'"}],"mark":{"type":"point","filled":true,"size":24,"color":"#1a1a1a","opacity":1},
     "encoding":{"x":{"field":"x","type":"quantitative","scale":{"domain":[0.5,5.5],"range":[117,248]},"axis":{"orient":"bottom","offset":-410,"values":[1,2,3,4,5],"labelExpr":"['','WT','CD11c–MyD88ᴼᴺ','LysM–MyD88ᴼᴺ','MyD88ᴼᶠᶠ','MyD88ᴼᶠᶠ'][datum.value]","labelAngle":-45,"labelOverlap":false,"title":"Donor:","titleX":110,"titleY":10,"titleAlign":"right","titleBaseline":"middle"}},
       "y":{"field":"v","type":"quantitative","scale":{"domain":[0,500],"range":[345,257]},"axis":{"orient":"left","offset":-117,"title":"# PMNs × 10⁴","values":[0,100,200,300,400,500],"labelOverlap":false}},
       "shape":{"field":"g","type":"nominal","scale":{"domain":[1,2,3,4,5],"range":["circle","square","triangle-up","triangle-down","diamond"]},"legend":null}}},
    {"data":{"name":"means"},"transform":[{"filter":"datum.p=='pmn'"}],"mark":{"type":"tick","orient":"horizontal","size":18,"thickness":1,"color":"#1a1a1a"},"encoding":{"x":{"field":"g","type":"quantitative"},"y":{"field":"v","type":"quantitative"}}},
    {"data":{"name":"br"},"transform":[{"filter":"datum.p=='pmn'"}],"mark":{"type":"rule","color":"#444","strokeWidth":0.9},"encoding":{"x":{"field":"x1","type":"quantitative"},"x2":{"field":"x2"},"y":{"field":"y","type":"quantitative"}}},
    {"data":{"name":"br"},"transform":[{"filter":"datum.p=='pmn'"}],"mark":{"type":"rule","color":"#444","strokeWidth":0.9},"encoding":{"x":{"field":"x1","type":"quantitative"},"y":{"field":"y","type":"quantitative"},"y2":{"field":"yt"}}},
    {"data":{"name":"br"},"transform":[{"filter":"datum.p=='pmn'"}],"mark":{"type":"rule","color":"#444","strokeWidth":0.9},"encoding":{"x":{"field":"x2","type":"quantitative"},"y":{"field":"y","type":"quantitative"},"y2":{"field":"yt"}}},
    {"data":{"name":"br"},"transform":[{"filter":"datum.p=='pmn'"}],"mark":{"type":"text","fontSize":8,"baseline":"bottom","dy":-0.3,"color":"#333"},"encoding":{"x":{"field":"xm","type":"quantitative"},"y":{"field":"y","type":"quantitative"},"text":{"field":"lab"}}},
    {"data":{"name":"hdr"},"transform":[{"filter":"datum.p=='pmn'"}],"mark":{"type":"text","fontSize":9,"color":"#333"},"encoding":{"x":{"field":"xc","type":"quantitative"},"y":{"field":"yt","type":"quantitative"},"text":{"field":"lab"}}},
    {"data":{"name":"hdr"},"transform":[{"filter":"datum.p=='pmn'"}],"mark":{"type":"rule","color":"#333","strokeWidth":1.6},"encoding":{"x":{"field":"xl","type":"quantitative"},"x2":{"field":"xr"},"y":{"field":"yl","type":"quantitative"}}},
    {"data":{"name":"hdr"},"transform":[{"filter":"datum.p=='pmn'"}],"mark":{"type":"rule","color":"#333","strokeWidth":1,"strokeDash":[1.5,2]},"encoding":{"x":{"field":"xd","type":"quantitative"},"y":{"field":"yd0","type":"quantitative"},"y2":{"field":"yd1"}}},
    {"data":{"name":"let"},"transform":[{"filter":"datum.p=='pmn'"}],"mark":{"type":"text","fontSize":16,"fontWeight":"bold","color":"#111"},"encoding":{"x":{"field":"x","type":"quantitative"},"y":{"field":"y","type":"quantitative"},"text":{"field":"t"}}}
  ]},
  {"layer":[
    {"data":{"name":"pts"},"transform":[{"filter":"datum.p=='am'"}],"mark":{"type":"point","filled":true,"size":24,"color":"#1a1a1a","opacity":1},
     "encoding":{"x":{"field":"x","type":"quantitative","scale":{"domain":[0.5,5.5],"range":[287,417]},"axis":{"orient":"bottom","offset":-410,"values":[1,2,3,4,5],"labelExpr":"['','WT','CD11c–MyD88ᴼᴺ','LysM–MyD88ᴼᴺ','MyD88ᴼᶠᶠ','MyD88ᴼᶠᶠ'][datum.value]","labelAngle":-45,"labelOverlap":false,"title":"Donor:","titleX":280,"titleY":10,"titleAlign":"right","titleBaseline":"middle"}},
       "y":{"field":"v","type":"quantitative","scale":{"domain":[0,8],"range":[345,257]},"axis":{"orient":"left","offset":-287,"title":"# AMs × 10⁴","values":[0,2,4,6,8],"labelOverlap":false}},
       "shape":{"field":"g","type":"nominal","scale":{"domain":[1,2,3,4,5],"range":["circle","square","triangle-up","triangle-down","diamond"]},"legend":null}}},
    {"data":{"name":"means"},"transform":[{"filter":"datum.p=='am'"}],"mark":{"type":"tick","orient":"horizontal","size":18,"thickness":1,"color":"#1a1a1a"},"encoding":{"x":{"field":"g","type":"quantitative"},"y":{"field":"v","type":"quantitative"}}},
    {"data":{"name":"br"},"transform":[{"filter":"datum.p=='am'"}],"mark":{"type":"rule","color":"#444","strokeWidth":0.9},"encoding":{"x":{"field":"x1","type":"quantitative"},"x2":{"field":"x2"},"y":{"field":"y","type":"quantitative"}}},
    {"data":{"name":"br"},"transform":[{"filter":"datum.p=='am'"}],"mark":{"type":"rule","color":"#444","strokeWidth":0.9},"encoding":{"x":{"field":"x1","type":"quantitative"},"y":{"field":"y","type":"quantitative"},"y2":{"field":"yt"}}},
    {"data":{"name":"br"},"transform":[{"filter":"datum.p=='am'"}],"mark":{"type":"rule","color":"#444","strokeWidth":0.9},"encoding":{"x":{"field":"x2","type":"quantitative"},"y":{"field":"y","type":"quantitative"},"y2":{"field":"yt"}}},
    {"data":{"name":"br"},"transform":[{"filter":"datum.p=='am'"}],"mark":{"type":"text","fontSize":8,"baseline":"bottom","dy":-0.3,"color":"#333"},"encoding":{"x":{"field":"xm","type":"quantitative"},"y":{"field":"y","type":"quantitative"},"text":{"field":"lab"}}},
    {"data":{"name":"hdr"},"transform":[{"filter":"datum.p=='am'"}],"mark":{"type":"text","fontSize":9,"color":"#333"},"encoding":{"x":{"field":"xc","type":"quantitative"},"y":{"field":"yt","type":"quantitative"},"text":{"field":"lab"}}},
    {"data":{"name":"hdr"},"transform":[{"filter":"datum.p=='am'"}],"mark":{"type":"rule","color":"#333","strokeWidth":1.6},"encoding":{"x":{"field":"xl","type":"quantitative"},"x2":{"field":"xr"},"y":{"field":"yl","type":"quantitative"}}},
    {"data":{"name":"hdr"},"transform":[{"filter":"datum.p=='am'"}],"mark":{"type":"rule","color":"#333","strokeWidth":1,"strokeDash":[1.5,2]},"encoding":{"x":{"field":"xd","type":"quantitative"},"y":{"field":"yd0","type":"quantitative"},"y2":{"field":"yd1"}}}
  ]},
  {"layer":[
    {"data":{"name":"pts"},"transform":[{"filter":"datum.p=='cfu'"}],"mark":{"type":"point","filled":true,"size":24,"color":"#1a1a1a","opacity":1},
     "encoding":{"x":{"field":"x","type":"quantitative","scale":{"domain":[0.5,5.5],"range":[442,580]},"axis":{"orient":"bottom","offset":-410,"values":[1,2,3,4,5],"labelExpr":"['','WT','CD11c–MyD88ᴼᴺ','LysM–MyD88ᴼᴺ','MyD88ᴼᶠᶠ','MyD88ᴼᶠᶠ'][datum.value]","labelAngle":-45,"labelOverlap":false,"title":"Donor:","titleX":435,"titleY":10,"titleAlign":"right","titleBaseline":"middle"}},
       "y":{"field":"v","type":"quantitative","scale":{"type":"log","domain":[10,100000000],"range":[345,257]},"axis":{"orient":"left","offset":-442,"title":null,"values":[10,100,1000,10000,100000,1000000,10000000,100000000],"labelOverlap":false,"labelExpr":"'10' + ['⁰','¹','²','³','⁴','⁵','⁶','⁷','⁸'][round(log(datum.value)/LN10)]"}},
       "shape":{"field":"g","type":"nominal","scale":{"domain":[1,2,3,4,5],"range":["circle","square","triangle-up","triangle-down","diamond"]},"legend":null}}},
    {"data":{"values":[{"x":-0.55,"y":31623,"lab":"CFU per lung"}]},"mark":{"type":"text","angle":270,"fontSize":8.5,"color":"#222"},"encoding":{"x":{"field":"x","type":"quantitative"},"y":{"field":"y","type":"quantitative"},"text":{"field":"lab"}}},
    {"data":{"name":"means"},"transform":[{"filter":"datum.p=='cfu'"}],"mark":{"type":"tick","orient":"horizontal","size":18,"thickness":1,"color":"#1a1a1a"},"encoding":{"x":{"field":"g","type":"quantitative"},"y":{"field":"v","type":"quantitative"}}},
    {"data":{"name":"br"},"transform":[{"filter":"datum.p=='cfu'"}],"mark":{"type":"rule","color":"#444","strokeWidth":0.9},"encoding":{"x":{"field":"x1","type":"quantitative"},"x2":{"field":"x2"},"y":{"field":"y","type":"quantitative"}}},
    {"data":{"name":"br"},"transform":[{"filter":"datum.p=='cfu'"}],"mark":{"type":"rule","color":"#444","strokeWidth":0.9},"encoding":{"x":{"field":"x1","type":"quantitative"},"y":{"field":"y","type":"quantitative"},"y2":{"field":"yt"}}},
    {"data":{"name":"br"},"transform":[{"filter":"datum.p=='cfu'"}],"mark":{"type":"rule","color":"#444","strokeWidth":0.9},"encoding":{"x":{"field":"x2","type":"quantitative"},"y":{"field":"y","type":"quantitative"},"y2":{"field":"yt"}}},
    {"data":{"name":"br"},"transform":[{"filter":"datum.p=='cfu'"}],"mark":{"type":"text","fontSize":8,"baseline":"bottom","dy":-0.3,"color":"#333"},"encoding":{"x":{"field":"xm","type":"quantitative"},"y":{"field":"y","type":"quantitative"},"text":{"field":"lab"}}},
    {"data":{"name":"hdr"},"transform":[{"filter":"datum.p=='cfu'"}],"mark":{"type":"text","fontSize":9,"color":"#333"},"encoding":{"x":{"field":"xc","type":"quantitative"},"y":{"field":"yt","type":"quantitative"},"text":{"field":"lab"}}},
    {"data":{"name":"hdr"},"transform":[{"filter":"datum.p=='cfu'"}],"mark":{"type":"rule","color":"#333","strokeWidth":1.6},"encoding":{"x":{"field":"xl","type":"quantitative"},"x2":{"field":"xr"},"y":{"field":"yl","type":"quantitative"}}},
    {"data":{"name":"hdr"},"transform":[{"filter":"datum.p=='cfu'"}],"mark":{"type":"rule","color":"#333","strokeWidth":1,"strokeDash":[1.5,2]},"encoding":{"x":{"field":"xd","type":"quantitative"},"y":{"field":"yd0","type":"quantitative"},"y2":{"field":"yd1"}}},
    {"data":{"name":"let"},"transform":[{"filter":"datum.p=='cfu'"}],"mark":{"type":"text","fontSize":16,"fontWeight":"bold","color":"#111"},"encoding":{"x":{"field":"x","type":"quantitative"},"y":{"field":"y","type":"quantitative"},"text":{"field":"t"}}}
  ]},
  {"layer":[
    {"data":{"name":"surv"},"transform":[{"filter":"datum.pl=='e' && (datum.s=='WT' || datum.s=='CD' || datum.s=='Ly')"}],"mark":{"type":"line","interpolate":"step-after","strokeWidth":1.5},
     "encoding":{"x":{"field":"t","type":"quantitative","scale":{"domain":[0,150],"range":[123,368]},"axis":{"orient":"bottom","offset":-205,"values":[0,10,20,30,40,50,60,70,80,90,100,110,120,130,140,150],"title":"Hours p.i.","labelOverlap":false,"labelFlush":false,"labelFontWeight":"bold","titleFontWeight":"bold","labelFontSize":9,"titleFontSize":9.5,"domainWidth":2,"domainColor":"#111","tickColor":"#111","tickWidth":1.5,"labelColor":"#111","titleColor":"#111","titlePadding":3}},
       "y":{"field":"y","type":"quantitative","scale":{"domain":[0,100],"range":[550,430]},"axis":{"orient":"left","offset":-123,"values":[0,25,50,75,100],"title":"Survival (%)","labelOverlap":false,"labelFlush":false,"labelFontWeight":"bold","titleFontWeight":"bold","labelFontSize":9.5,"titleFontSize":9.5,"domainWidth":2,"domainColor":"#111","tickColor":"#111","tickWidth":1.5,"labelColor":"#111","titleColor":"#111","titlePadding":8}},
       "strokeDash":{"field":"s","type":"nominal","scale":{"domain":["WT","CD","Ly","O11","O8","O9"],"range":[[1,0],[5,2.5],[1.5,2],[5,2.5],[1,0],[1,0]]},"legend":null},
       "color":{"field":"s","type":"nominal","scale":{"domain":["WT","CD","Ly","O11","O8","O9"],"range":["#111","#111","#111","#999","#999","#999"]},"legend":null}}},
    {"data":{"name":"surv"},"transform":[{"filter":"datum.pl=='e' && (datum.s=='O11' || datum.s=='O8')"}],"mark":{"type":"line","interpolate":"step-after","strokeWidth":1.5},
     "encoding":{"x":{"field":"t","type":"quantitative"},"y":{"field":"y","type":"quantitative"},"strokeDash":{"field":"s","type":"nominal","legend":null},"color":{"field":"s","type":"nominal","legend":null}}},
    {"data":{"name":"sig"},"transform":[{"filter":"datum.pl=='e'"}],"mark":{"type":"rule","color":"#333","strokeWidth":1.3},"encoding":{"x":{"field":"t","type":"quantitative"},"y":{"field":"y1","type":"quantitative"},"y2":{"field":"y2"}}},
    {"data":{"name":"sig"},"transform":[{"filter":"datum.pl=='e'"}],"mark":{"type":"rule","color":"#333","strokeWidth":1.3},"encoding":{"x":{"field":"t0","type":"quantitative"},"x2":{"field":"t"},"y":{"field":"y1","type":"quantitative"}}},
    {"data":{"name":"sig"},"transform":[{"filter":"datum.pl=='e'"}],"mark":{"type":"rule","color":"#333","strokeWidth":1.3},"encoding":{"x":{"field":"t0","type":"quantitative"},"x2":{"field":"t"},"y":{"field":"y2","type":"quantitative"}}},
    {"data":{"name":"sigt"},"transform":[{"filter":"datum.pl=='e' && (datum.lab=='ns' || datum.lab=='*')"}],"mark":{"type":"text","align":"left","fontSize":9.5,"color":"#222"},"encoding":{"x":{"field":"t","type":"quantitative"},"y":{"field":"y","type":"quantitative"},"text":{"field":"lab"}}},
    {"data":{"name":"sigt"},"transform":[{"filter":"datum.pl=='e' && (datum.lab=='**' || datum.lab=='***')"}],"mark":{"type":"text","angle":90,"fontSize":9.5,"color":"#222"},"encoding":{"x":{"field":"t","type":"quantitative"},"y":{"field":"y","type":"quantitative"},"text":{"field":"lab"}}},
    {"data":{"values":[{"t":-23.3,"y":108.3,"lab":"e"}]},"mark":{"type":"text","fontSize":16,"fontWeight":"bold","color":"#111"},"encoding":{"x":{"field":"t","type":"quantitative"},"y":{"field":"y","type":"quantitative"},"text":{"field":"lab"}}}
  ]},
  {"layer":[
    {"data":{"name":"leg"},"transform":[{"filter":"datum.lg=='e'"}],"mark":{"type":"rule","strokeWidth":1.5},
     "encoding":{"x":{"datum":12.6,"type":"quantitative","scale":{"domain":[0,100],"range":[380,728]},"axis":null},"x2":{"datum":16.1},"y":{"field":"r","type":"quantitative","scale":{"domain":[-0.2,6.8],"range":[430,550]},"axis":null},
       "strokeDash":{"field":"s","type":"nominal","scale":{"domain":["WT","CD","Ly","O11","O8","O9"],"range":[[1,0],[3.5,2],[1.5,2],[3.5,2],[1,0],[1,0]]},"legend":null},
       "color":{"field":"s","type":"nominal","scale":{"domain":["WT","CD","Ly","O11","O8","O9"],"range":["#111","#111","#111","#999","#999","#999"]},"legend":null}}},
    {"data":{"name":"leg"},"transform":[{"filter":"datum.lg=='e'"}],"mark":{"type":"text","align":"left","fontSize":10,"color":"#222"},"encoding":{"x":{"datum":17.8,"type":"quantitative"},"y":{"field":"r","type":"quantitative"},"text":{"field":"lab"}}},
    {"data":{"values":[{"x":26.7,"r":0,"lab":"Donor"},{"x":70.4,"r":0,"lab":"Recipient"}]},"mark":{"type":"text","fontSize":12.5,"color":"#222"},"encoding":{"x":{"field":"x","type":"quantitative"},"y":{"field":"r","type":"quantitative"},"text":{"field":"lab"}}},
    {"data":{"values":[{"x1":18.1,"x2":35.1,"r":0.45},{"x1":61,"x2":80,"r":0.45}]},"mark":{"type":"rule","strokeWidth":1.6,"color":"#222"},"encoding":{"x":{"field":"x1","type":"quantitative"},"x2":{"field":"x2"},"y":{"field":"r","type":"quantitative"}}},
    {"data":{"values":[{"x":47.7,"r1":1.35,"r2":4.3},{"x":47.7,"r1":4.58,"r2":5.23}]},"mark":{"type":"rule","strokeWidth":1.3,"color":"#222"},"encoding":{"x":{"field":"x","type":"quantitative"},"y":{"field":"r1","type":"quantitative"},"y2":{"field":"r2"}}},
    {"data":{"values":[{"x1":46.8,"x2":47.7,"r":1.35},{"x1":46.8,"x2":47.7,"r":4.3},{"x1":46.8,"x2":47.7,"r":4.58},{"x1":46.8,"x2":47.7,"r":5.23},{"x1":47.7,"x2":52.6,"r":2.66},{"x1":47.7,"x2":52.6,"r":4.93}]},"mark":{"type":"rule","strokeWidth":1.3,"color":"#222"},"encoding":{"x":{"field":"x1","type":"quantitative"},"x2":{"field":"x2"},"y":{"field":"r","type":"quantitative"}}},
    {"data":{"values":[{"x":53.2,"r":2.66},{"x":53.2,"r":4.93}]},"mark":{"type":"point","shape":"triangle-right","filled":true,"size":55,"color":"#111","opacity":1},"encoding":{"x":{"field":"x","type":"quantitative"},"y":{"field":"r","type":"quantitative"}}},
    {"data":{"values":[{"x":55.2,"r":2.66,"lab":"Ly5.1"},{"x":55.2,"r":4.93,"lab":"MyD88ᴼᶠᶠ"}]},"mark":{"type":"text","align":"left","fontSize":10,"color":"#222"},"encoding":{"x":{"field":"x","type":"quantitative"},"y":{"field":"r","type":"quantitative"},"text":{"field":"lab"}}}
  ]},
  {"layer":[
    {"data":{"name":"surv"},"transform":[{"filter":"datum.pl=='f' && datum.s=='O9'"}],"mark":{"type":"line","interpolate":"step-after","strokeWidth":1.5},
     "encoding":{"x":{"field":"t","type":"quantitative","scale":{"domain":[0,150],"range":[123,368]},"axis":{"orient":"bottom","offset":-30,"values":[0,10,20,30,40,50,60,70,80,90,100,110,120,130,140,150],"title":"Hours p.i.","labelOverlap":false,"labelFlush":false,"labelFontWeight":"bold","titleFontWeight":"bold","labelFontSize":9,"titleFontSize":9.5,"domainWidth":2,"domainColor":"#111","tickColor":"#111","tickWidth":1.5,"labelColor":"#111","titleColor":"#111","titlePadding":3}},
       "y":{"field":"y","type":"quantitative","scale":{"domain":[0,100],"range":[725,605]},"axis":{"orient":"left","offset":-123,"values":[0,25,50,75,100],"title":"Survival (%)","labelOverlap":false,"labelFlush":false,"labelFontWeight":"bold","titleFontWeight":"bold","labelFontSize":9.5,"titleFontSize":9.5,"domainWidth":2,"domainColor":"#111","tickColor":"#111","tickWidth":1.5,"labelColor":"#111","titleColor":"#111","titlePadding":8}},
       "strokeDash":{"field":"s","type":"nominal","scale":{"domain":["WT","CD","Ly","O11","O8","O9"],"range":[[1,0],[5,2.5],[1.5,2],[5,2.5],[1,0],[1,0]]},"legend":null},
       "color":{"field":"s","type":"nominal","scale":{"domain":["WT","CD","Ly","O11","O8","O9"],"range":["#111","#111","#111","#999","#999","#999"]},"legend":null}}},
    {"data":{"name":"surv"},"transform":[{"filter":"datum.pl=='f' && (datum.s=='WT' || datum.s=='CD' || datum.s=='Ly')"}],"mark":{"type":"line","interpolate":"step-after","strokeWidth":1.5},
     "encoding":{"x":{"field":"t","type":"quantitative"},"y":{"field":"y","type":"quantitative"},"strokeDash":{"field":"s","type":"nominal","legend":null},"color":{"field":"s","type":"nominal","legend":null}}},
    {"data":{"name":"sig"},"transform":[{"filter":"datum.pl=='f'"}],"mark":{"type":"rule","color":"#333","strokeWidth":1.3},"encoding":{"x":{"field":"t","type":"quantitative"},"y":{"field":"y1","type":"quantitative"},"y2":{"field":"y2"}}},
    {"data":{"name":"sig"},"transform":[{"filter":"datum.pl=='f'"}],"mark":{"type":"rule","color":"#333","strokeWidth":1.3},"encoding":{"x":{"field":"t0","type":"quantitative"},"x2":{"field":"t"},"y":{"field":"y1","type":"quantitative"}}},
    {"data":{"name":"sig"},"transform":[{"filter":"datum.pl=='f'"}],"mark":{"type":"rule","color":"#333","strokeWidth":1.3},"encoding":{"x":{"field":"t0","type":"quantitative"},"x2":{"field":"t"},"y":{"field":"y2","type":"quantitative"}}},
    {"data":{"name":"sigt"},"transform":[{"filter":"datum.pl=='f' && (datum.lab=='ns' || datum.lab=='*')"}],"mark":{"type":"text","align":"left","fontSize":9.5,"color":"#222"},"encoding":{"x":{"field":"t","type":"quantitative"},"y":{"field":"y","type":"quantitative"},"text":{"field":"lab"}}},
    {"data":{"name":"sigt"},"transform":[{"filter":"datum.pl=='f' && (datum.lab=='**' || datum.lab=='***')"}],"mark":{"type":"text","angle":90,"fontSize":9.5,"color":"#222"},"encoding":{"x":{"field":"t","type":"quantitative"},"y":{"field":"y","type":"quantitative"},"text":{"field":"lab"}}},
    {"data":{"values":[{"t":-21.4,"y":106.7,"lab":"f"}]},"mark":{"type":"text","fontSize":16,"fontWeight":"bold","color":"#111"},"encoding":{"x":{"field":"t","type":"quantitative"},"y":{"field":"y","type":"quantitative"},"text":{"field":"lab"}}}
  ]},
  {"layer":[
    {"data":{"name":"leg"},"transform":[{"filter":"datum.lg=='f'"}],"mark":{"type":"rule","strokeWidth":1.5},
     "encoding":{"x":{"datum":7.8,"type":"quantitative","scale":{"domain":[0,100],"range":[380,728]},"axis":null},"x2":{"datum":12.1},"y":{"field":"r","type":"quantitative","scale":{"domain":[-0.05,6.95],"range":[605,725]},"axis":null},
       "strokeDash":{"field":"s","type":"nominal","scale":{"domain":["WT","CD","Ly","O11","O8","O9"],"range":[[1,0],[3.5,2],[1.5,2],[3.5,2],[1,0],[1,0]]},"legend":null},
       "color":{"field":"s","type":"nominal","scale":{"domain":["WT","CD","Ly","O11","O8","O9"],"range":["#111","#111","#111","#999","#999","#999"]},"legend":null}}},
    {"data":{"name":"leg"},"transform":[{"filter":"datum.lg=='f'"}],"mark":{"type":"text","align":"left","fontSize":10,"color":"#222"},"encoding":{"x":{"datum":13.2,"type":"quantitative"},"y":{"field":"r","type":"quantitative"},"text":{"field":"lab"}}},
    {"data":{"values":[{"x":22.7,"r":-0.05,"lab":"Donor"},{"x":58.9,"r":-0.05,"lab":"Recipient"}]},"mark":{"type":"text","fontSize":12.5,"color":"#222"},"encoding":{"x":{"field":"x","type":"quantitative"},"y":{"field":"r","type":"quantitative"},"text":{"field":"lab"}}},
    {"data":{"values":[{"x1":14.7,"x2":30.7,"r":0.36},{"x1":50.9,"x2":67,"r":0.36}]},"mark":{"type":"rule","strokeWidth":1.6,"color":"#222"},"encoding":{"x":{"field":"x1","type":"quantitative"},"x2":{"field":"x2"},"y":{"field":"r","type":"quantitative"}}},
    {"data":{"values":[{"x":42.5,"r1":0.9,"r2":4.6}]},"mark":{"type":"rule","strokeWidth":1.3,"color":"#222"},"encoding":{"x":{"field":"x","type":"quantitative"},"y":{"field":"r1","type":"quantitative"},"y2":{"field":"r2"}}},
    {"data":{"values":[{"x1":41.6,"x2":42.5,"r":0.9},{"x1":41.6,"x2":42.5,"r":4.6},{"x1":42.5,"x2":47.3,"r":2.7}]},"mark":{"type":"rule","strokeWidth":1.3,"color":"#222"},"encoding":{"x":{"field":"x1","type":"quantitative"},"x2":{"field":"x2"},"y":{"field":"r","type":"quantitative"}}},
    {"data":{"values":[{"x":47.9,"r":2.7}]},"mark":{"type":"point","shape":"triangle-right","filled":true,"size":55,"color":"#111","opacity":1},"encoding":{"x":{"field":"x","type":"quantitative"},"y":{"field":"r","type":"quantitative"}}},
    {"data":{"values":[{"x":49.9,"r":2.7,"lab":"CCSP-MyD88ᴼᴺ"}]},"mark":{"type":"text","align":"left","fontSize":10,"color":"#222"},"encoding":{"x":{"field":"x","type":"quantitative"},"y":{"field":"r","type":"quantitative"},"text":{"field":"lab"}}}
  ]}
]
}
